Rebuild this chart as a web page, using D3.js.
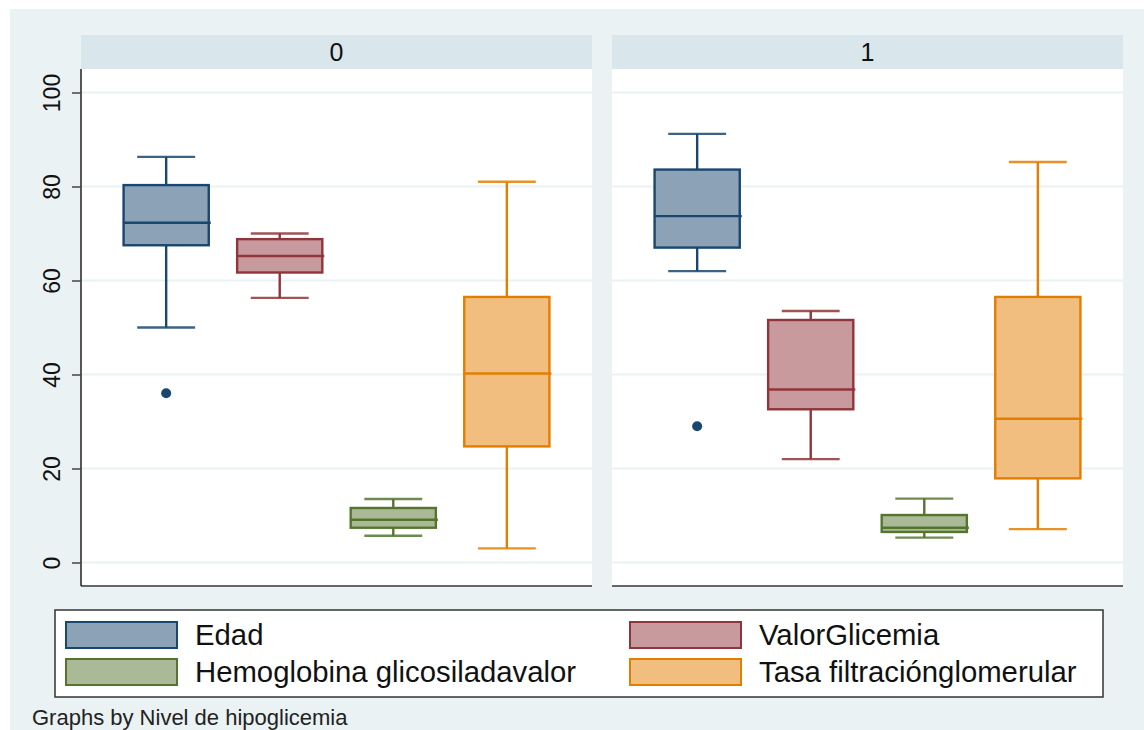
<!DOCTYPE html>
<html>
<head>
<meta charset="utf-8">
<script src="https://cdn.jsdelivr.net/npm/d3@7"></script>
<style>
  body { margin: 0; background: #fff; }
  text { font-family: "Liberation Sans", Arial, sans-serif; }
</style>
</head>
<body>
<div id="chart"></div>
<script>
// Data: [lower whisker, q1, median, q3, upper whisker] per group
const groups = ['0', '1'];
const variables = ['Edad', 'ValorGlicemia', 'Hemoglobina glicosiladavalor', 'Tasa filtraciónglomerular'];
const edadStats = [[50, 67.5, 72.3, 80.3, 86.3], [62, 67, 73.7, 83.6, 91.2]];
const glicemiaStats = [[56.3, 61.7, 65.2, 68.8, 70], [22, 32.6, 36.8, 51.6, 53.5]];
const hemoglobinaStats = [[5.7, 7.4, 9.1, 11.6, 13.5], [5.3, 6.5, 7.4, 10.1, 13.6]];
const tasaStats = [[3, 24.7, 40.2, 56.5, 81], [7.1, 17.9, 30.6, 56.5, 85.2]];
const edadOutliers = [[36], [29]];
const glicemiaOutliers = [[], []];
const hemoglobinaOutliers = [[], []];
const tasaOutliers = [[], []];
const yTicks = [0, 20, 40, 60, 80, 100];

const lineColors = ['#1a476f', '#90353b', '#55752f', '#e37e00'];
const fillColors = ['#8ca3b7', '#c89a9d', '#aaba97', '#f1be80'];

const statsByVar = [edadStats, glicemiaStats, hemoglobinaStats, tasaStats];
const outliersByVar = [edadOutliers, glicemiaOutliers, hemoglobinaOutliers, tasaOutliers];

const W = 1144, H = 730;
const panelLeft = [81, 612];
const panelW = 511;
const stripTop = 35, plotTop = 69, plotBottom = 586;

const svg = d3.select('#chart').append('svg')
  .attr('width', W)
  .attr('height', H);

// outer graph region
svg.append('rect').attr('x', 10).attr('y', 9).attr('width', W - 10).attr('height', H - 9)
  .attr('fill', '#eaf2f3');

const y = d3.scaleLinear().domain([-5, 105]).range([plotBottom, plotTop]);
const x = d3.scalePoint().domain(variables).range([0, panelW]).padding(0.75);
const boxW = x.step() * 0.75;
const capW = x.step() * 0.51;
const sw = 2.4;

groups.forEach((g, gi) => {
  const panel = svg.append('g').attr('transform', `translate(${panelLeft[gi]},0)`);

  // strip header
  panel.append('rect').attr('x', 0).attr('y', stripTop).attr('width', panelW)
    .attr('height', plotTop - stripTop).attr('fill', '#d9e6eb');
  panel.append('text').attr('x', panelW / 2).attr('y', 61)
    .attr('text-anchor', 'middle').style('font-size', '25px').attr('fill', '#111')
    .text(g);

  // plot region
  panel.append('rect').attr('x', 0).attr('y', plotTop).attr('width', panelW)
    .attr('height', plotBottom - plotTop).attr('fill', '#fff');

  // grid
  panel.selectAll('.grid').data(yTicks).enter().append('line')
    .attr('x1', 0).attr('x2', panelW)
    .attr('y1', d => y(d)).attr('y2', d => y(d))
    .attr('stroke', '#eaf2f3').attr('stroke-width', 2);

  // bottom axis line
  panel.append('line').attr('x1', 0).attr('x2', panelW)
    .attr('y1', plotBottom).attr('y2', plotBottom)
    .attr('stroke', '#666').attr('stroke-width', 2);

  variables.forEach((v, vi) => {
    const s = statsByVar[vi][gi];
    const cx = x(v);
    const col = lineColors[vi];
    const bx = panel.append('g');

    // whiskers
    bx.append('line').attr('x1', cx).attr('x2', cx).attr('y1', y(s[0])).attr('y2', y(s[1]))
      .attr('stroke', col).attr('stroke-width', sw);
    bx.append('line').attr('x1', cx).attr('x2', cx).attr('y1', y(s[3])).attr('y2', y(s[4]))
      .attr('stroke', col).attr('stroke-width', sw);
    [s[0], s[4]].forEach(c => {
      bx.append('line').attr('x1', cx - capW / 2).attr('x2', cx + capW / 2)
        .attr('y1', y(c)).attr('y2', y(c))
        .attr('stroke', col).attr('stroke-width', sw).attr('stroke-opacity', 0.85);
    });

    // box
    bx.append('rect').attr('x', cx - boxW / 2).attr('y', y(s[3]))
      .attr('width', boxW).attr('height', y(s[1]) - y(s[3]))
      .attr('fill', fillColors[vi]).attr('stroke', col).attr('stroke-width', sw);

    // median
    bx.append('line').attr('x1', cx - boxW / 2).attr('x2', cx + boxW / 2 + 2)
      .attr('y1', y(s[2])).attr('y2', y(s[2]))
      .attr('stroke', col).attr('stroke-width', sw);

    // outliers
    bx.selectAll('.out').data(outliersByVar[vi][gi]).enter().append('circle')
      .attr('cx', cx).attr('cy', d => y(d)).attr('r', 5)
      .attr('fill', col);
  });
});

// y axis on left panel
const yAxis = svg.append('g')
  .attr('transform', `translate(${panelLeft[0]},0)`)
  .call(d3.axisLeft(y).tickValues(yTicks).tickSize(9).tickSizeOuter(0));
yAxis.select('.domain').attr('stroke', '#222').attr('stroke-width', 1.5)
  .attr('d', `M0,${plotTop}V${plotBottom}`);
yAxis.selectAll('.tick line').attr('stroke', '#444').attr('stroke-width', 1.5);
yAxis.selectAll('.tick text')
  .attr('transform', 'rotate(-90)')
  .attr('x', 0).attr('y', -21).attr('dy', 0)
  .attr('text-anchor', 'middle')
  .attr('fill', '#111')
  .style('font-size', '23px');

// legend
const legend = svg.append('g');
legend.append('rect').attr('x', 55).attr('y', 610).attr('width', 1048).attr('height', 87)
  .attr('fill', '#fff').attr('stroke', '#333').attr('stroke-width', 1.5);

const legCols = [66, 630];
const legRows = [622, 659];
variables.forEach((v, vi) => {
  const lx = legCols[vi % 2];
  const ly = legRows[Math.floor(vi / 2)];
  legend.append('rect').attr('x', lx).attr('y', ly).attr('width', 111).attr('height', 26)
    .attr('fill', fillColors[vi]).attr('stroke', lineColors[vi]).attr('stroke-width', 2);
  legend.append('text').attr('x', lx + 129).attr('y', ly + 23)
    .style('font-size', '29.3px').attr('fill', '#111')
    .text(v);
});

// note
svg.append('text').attr('x', 32).attr('y', 725)
  .style('font-size', '22px').attr('fill', '#222')
  .text('Graphs by Nivel de hipoglicemia');
</script>
</body>
</html>
